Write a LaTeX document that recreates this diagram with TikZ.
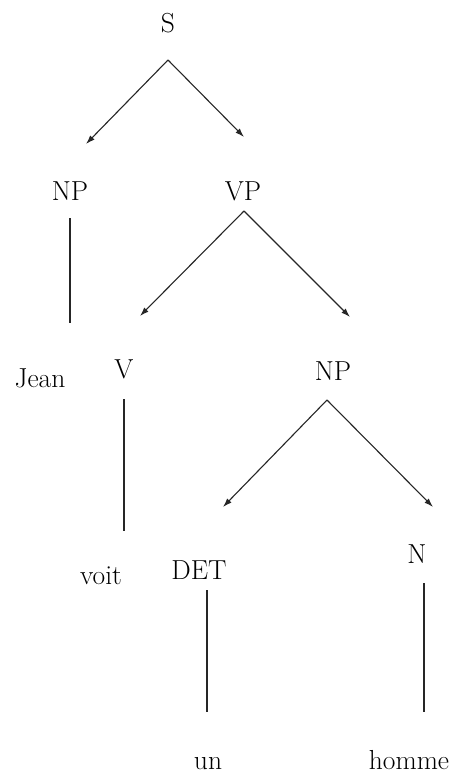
\documentclass[tikz,border=0pt]{standalone}
\usetikzlibrary{arrows.meta}
\begin{document}
\begin{tikzpicture}[x=1pt,y=-1pt,
  lab/.style={anchor=base,inner sep=0pt,font=\fontsize{27.5}{33}\selectfont},
  edge/.style={line width=1.1pt,draw=black!85},
  arr/.style={edge,-{Latex[length=9pt,width=6pt]}}]
\useasboundingbox (0,0) rectangle (459,781);
\fill[white] (0,0) rectangle (459,781);
% nodes
\node[lab] (S) at (168,33) {S};
\node[lab] (NPa) at (70,200) {NP};
\node[lab] (VP) at (243,200) {VP};
\node[lab] (Jean) at (40,387) {Jean};
\node[lab] (V) at (124,378) {V};
\node[lab] (NPb) at (333,380) {NP};
\node[lab] (voit) at (101,584) {voit};
\node[lab] (DET) at (199,579) {DET};
\node[lab] (N) at (417,563) {N};
\node[lab] (un) at (208,769) {un};
\node[lab] (homme) at (409,769) {homme};
% connector ends
\coordinate (S-o) at (168,60);
\coordinate (NPa-i) at (86,144);
\coordinate (VP-i) at (244,137);
\coordinate (NPa-o) at (70,218);
\coordinate (Jean-i) at (70,323);
\coordinate (VP-o) at (244,211);
\coordinate (V-i) at (140,316);
\coordinate (NPb-i) at (350,317);
\coordinate (V-o) at (124,399);
\coordinate (voit-i) at (124,531);
\coordinate (NPb-o) at (327,400);
\coordinate (DET-i) at (223,507);
\coordinate (N-i) at (433,507);
\coordinate (DET-o) at (207,590);
\coordinate (un-i) at (207,712);
\coordinate (N-o) at (424,583);
\coordinate (homme-i) at (424,712);
% connectors
\draw[arr] (S-o) -- (NPa-i);
\draw[arr] (S-o) -- (VP-i);
\draw[edge] (NPa-o) -- (Jean-i);
\draw[arr] (VP-o) -- (V-i);
\draw[arr] (VP-o) -- (NPb-i);
\draw[edge] (V-o) -- (voit-i);
\draw[arr] (NPb-o) -- (DET-i);
\draw[arr] (NPb-o) -- (N-i);
\draw[edge] (DET-o) -- (un-i);
\draw[edge] (N-o) -- (homme-i);
\end{tikzpicture}
\end{document}
